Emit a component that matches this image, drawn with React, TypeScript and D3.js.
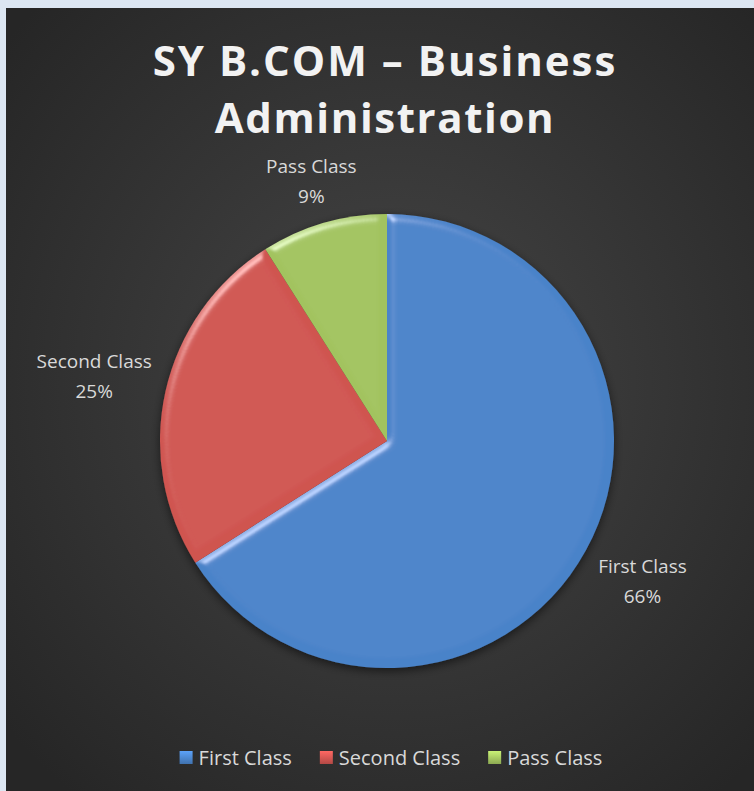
import React, { useEffect, useRef } from 'react';
import * as d3 from 'd3';

// chart data
const categories = ['First Class', 'Second Class', 'Pass Class'];
const percents = [66, 25, 9];
const sliceColors = ['#4a83c9', '#cf5450', '#a2c35f'];
const chartTitle = ['SY B.COM \u2013 Business', 'Administration'];

const W = 754;
const H = 791;

export default function App() {
  const ref = useRef<HTMLDivElement>(null);

  useEffect(() => {
    document.body.style.margin = '0';
    const root = d3.select(ref.current);
    root.select('svg').remove();

    const svg = root.append('svg').attr('width', W).attr('height', H)
      .style('display', 'block');
    const defs = svg.append('defs');

    const bg = defs.append('radialGradient').attr('id', 'bg')
      .attr('cx', '52%').attr('cy', '48%').attr('r', '68%');
    bg.append('stop').attr('offset', '0%').attr('stop-color', '#464646');
    bg.append('stop').attr('offset', '100%').attr('stop-color', '#262626');

    // bevel look of the slices
    const bevel = defs.append('filter').attr('id', 'bevel')
      .attr('x', '-10%').attr('y', '-10%').attr('width', '120%').attr('height', '120%');
    bevel.append('feGaussianBlur').attr('in', 'SourceAlpha').attr('stdDeviation', 4).attr('result', 'blur');
    const spec = bevel.append('feSpecularLighting').attr('in', 'blur')
      .attr('surfaceScale', 5).attr('specularConstant', 0.8).attr('specularExponent', 25)
      .attr('lighting-color', '#ffffff').attr('result', 'spec');
    spec.append('feDistantLight').attr('azimuth', 235).attr('elevation', 30);
    bevel.append('feComposite').attr('in', 'spec').attr('in2', 'SourceAlpha').attr('operator', 'in').attr('result', 'specIn');
    bevel.append('feComposite').attr('in', 'SourceGraphic').attr('in2', 'specIn')
      .attr('operator', 'arithmetic').attr('k1', 0).attr('k2', 1).attr('k3', 0.5).attr('k4', 0);

    const shadow = defs.append('filter').attr('id', 'shadow')
      .attr('x', '-20%').attr('y', '-20%').attr('width', '140%').attr('height', '140%');
    shadow.append('feDropShadow').attr('dx', 0).attr('dy', 3).attr('stdDeviation', 5)
      .attr('flood-color', '#000').attr('flood-opacity', 0.55);

    // frame
    svg.append('rect').attr('width', W).attr('height', H).attr('fill', '#dce6f2');
    svg.append('rect').attr('x', 6).attr('y', 8).attr('width', W - 6).attr('height', H - 8)
      .attr('fill', 'url(#bg)');

    const font = "'Open Sans', 'Noto Sans', sans-serif";

    // title
    svg.append('g').selectAll('text').data(chartTitle).enter().append('text')
      .attr('x', 385)
      .attr('y', (d, i) => 76 + i * 57)
      .attr('text-anchor', 'middle')
      .style('font-family', font)
      .style('font-weight', 700)
      .style('font-size', '42px')
      .style('letter-spacing', (d, i) => (i === 0 ? '2px' : '1.6px'))
      .attr('fill', '#f2f2f2')
      .text(d => d);

    // pie
    const cx = 387, cy = 441, r = 227;
    const data = categories.map((c, i) => ({ name: c, value: percents[i], color: sliceColors[i] }));
    const pie = d3.pie<any>().value(d => d.value).sort(null);
    const arcs = pie(data);
    const arc = d3.arc<any>().innerRadius(0).outerRadius(r);

    const g = svg.append('g').attr('transform', `translate(${cx},${cy})`);
    const pieG = g.append('g').attr('filter', 'url(#shadow)');
    pieG.selectAll('path').data(arcs).enter().append('path')
      .attr('d', arc)
      .attr('fill', d => d.data.color)
      .attr('filter', 'url(#bevel)');

    // data labels
    const lineH = 30;
    const labels = g.append('g').selectAll('g').data(arcs).enter().append('g');
    labels.each(function (d) {
      const grp = d3.select(this);
      const t1 = grp.append('text').attr('text-anchor', 'middle')
        .style('font-family', font).style('font-size', '19px').attr('fill', '#d9d9d9')
        .text(d.data.name);
      grp.append('text').attr('text-anchor', 'middle').attr('y', lineH)
        .style('font-family', font).style('font-size', '19px').attr('fill', '#d9d9d9')
        .text(d.data.value + '%');
      const w = (t1.node() as SVGTextElement).getComputedTextLength();
      const h = 58;
      const a = (d.startAngle + d.endAngle) / 2;
      const sx = Math.sin(a), sy = -Math.cos(a);
      const ext = Math.min(Math.abs(sx) > 1e-6 ? w / 2 / Math.abs(sx) : 1e9, Math.abs(sy) > 1e-6 ? h / 2 / Math.abs(sy) : 1e9);
      const dist = r + 14 + ext;
      const x = sx * dist, y = sy * dist;
      grp.attr('transform', `translate(${x},${y - h / 2 + 21})`);
    });

    // legend
    const legend = svg.append('g');
    const items = legend.selectAll('g').data(data).enter().append('g');
    const widths: number[] = [];
    items.each(function (d) {
      const it = d3.select(this);
      const id = 'lg' + d.name.replace(/\s/g, '');
      const grad = defs.append('linearGradient').attr('id', id)
        .attr('x1', 0).attr('y1', 0).attr('x2', 0).attr('y2', 1);
      grad.append('stop').attr('offset', '0%').attr('stop-color', d3.color(d.color)!.brighter(0.6).toString());
      grad.append('stop').attr('offset', '100%').attr('stop-color', d3.color(d.color)!.darker(0.4).toString());
      it.append('rect').attr('x', 0).attr('y', -14).attr('width', 13).attr('height', 13)
        .attr('fill', `url(#${id})`);
      const t = it.append('text').attr('x', 19).attr('y', 0)
        .style('font-family', font).style('font-size', '20px').attr('fill', '#d9d9d9')
        .text(d.name);
      widths.push(19 + (t.node() as SVGTextElement).getComputedTextLength());
    });
    const gap = 28;
    const total = d3.sum(widths) + gap * (widths.length - 1);
    let x0 = 391 - total / 2;
    items.attr('transform', (d, i) => {
      const x = x0;
      x0 += widths[i] + gap;
      return `translate(${x},765)`;
    });
  }, []);

  return <div ref={ref}></div>;
}
